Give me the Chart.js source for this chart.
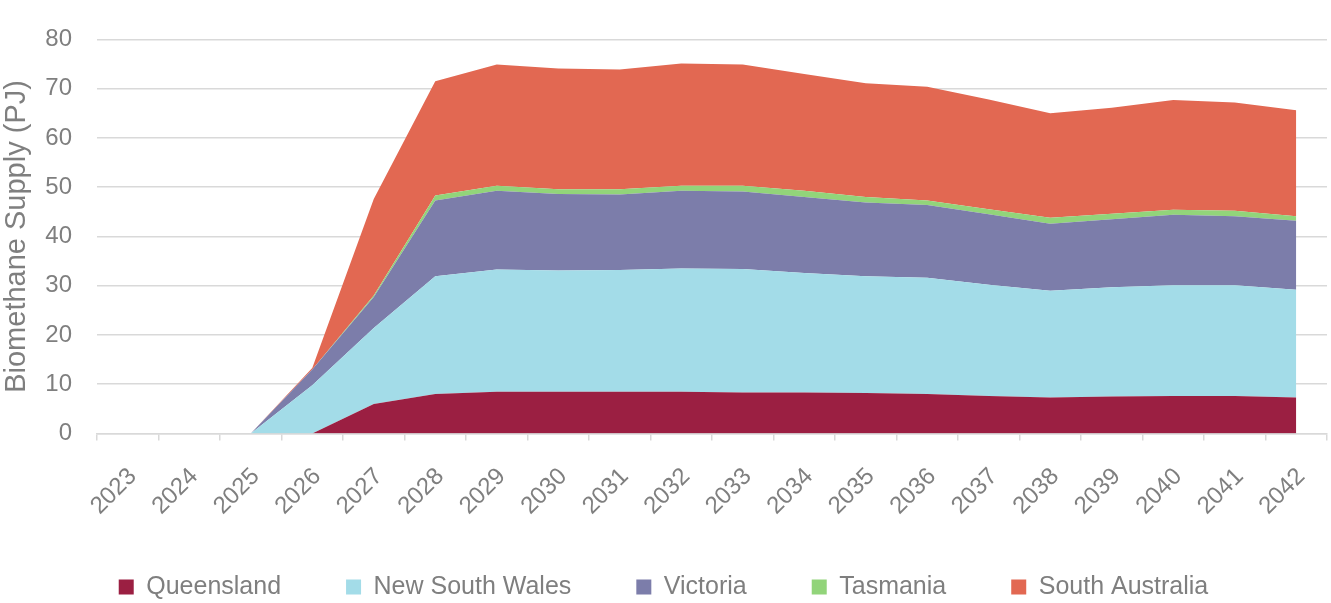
<!DOCTYPE html>
<html>
<head>
<meta charset="utf-8">
<script src="https://cdn.jsdelivr.net/npm/chart.js@4/dist/chart.umd.min.js"></script>
<style>
  html, body { margin: 0; padding: 0; background: #fff; }
  #wrap { width: 1331px; height: 603px; }
</style>
</head>
<body>
<div id="wrap"><canvas id="myChart" width="1331" height="603"></canvas></div>
<script>
// years on the x axis
const years = ['2023', '2024', '2025', '2026', '2027', '2028', '2029', '2030', '2031', '2032',
               '2033', '2034', '2035', '2036', '2037', '2038', '2039', '2040', '2041', '2042'];

// biomethane supply per state (PJ), stacked
const queensland     = [0, 0, 0, 0,   6.0,  8.0,  8.5,  8.5,  8.5,  8.5,  8.3,  8.3,  8.2,  8.0,  7.6,  7.3,  7.5,  7.6,  7.6,  7.3];
const newSouthWales  = [0, 0, 0, 9.8, 15.4, 23.9, 24.8, 24.6, 24.7, 25.0, 25.1, 24.3, 23.7, 23.6, 22.6, 21.7, 22.2, 22.5, 22.5, 21.9];
const victoria       = [0, 0, 0, 3.2, 6.3,  15.4, 16.0, 15.5, 15.3, 15.8, 15.7, 15.4, 15.0, 14.8, 14.3, 13.6, 13.8, 14.3, 14.0, 14.0];
const tasmania       = [0, 0, 0, 0,   0.3,  1.0,  1.0,  1.0,  1.1,  1.0,  1.2,  1.3,  1.1,  0.9,  1.0,  1.2,  1.1,  1.0,  1.1,  0.9];
const southAustralia = [0, 0, 0, 0.3, 19.6, 23.2, 24.6, 24.5, 24.3, 24.8, 24.6, 23.7, 23.1, 23.1, 22.3, 21.2, 21.5, 22.3, 22.0, 21.5];

const yTicks = [0, 10, 20, 30, 40, 50, 60, 70, 80];

const FONT = 'Liberation Sans, Arial, sans-serif';
const GREY = '#7f7f7f';
const GRID = '#d9d9d9';

function area(label, data, color, fill) {
    return {
        label: label,
        data: data,
        backgroundColor: color,
        borderColor: color,
        borderWidth: 0,
        pointRadius: 0,
        pointHoverRadius: 0,
        tension: 0,
        fill: fill
    };
}

const whiteBg = {
    id: 'whiteBg',
    beforeDraw(chart) {
        const c = chart.ctx;
        c.save();
        c.fillStyle = '#fff';
        c.fillRect(0, 0, chart.width, chart.height);
        c.restore();
    }
};

var ctx = document.getElementById('myChart').getContext('2d');
var chart = new Chart(ctx, {
    type: 'line',
    data: {
        labels: years,
        datasets: [
            area('Queensland', queensland, '#9b1f42', 'origin'),
            area('New South Wales', newSouthWales, '#a3dce8', '-1'),
            area('Victoria', victoria, '#7c7daa', '-1'),
            area('Tasmania', tasmania, '#92d47a', '-1'),
            area('South Australia', southAustralia, '#e26852', '-1')
        ]
    },
    options: {
        responsive: false,
        animation: false,
        layout: { padding: { top: 19, right: 4, bottom: -6.5, left: 0 } },
        plugins: {
            tooltip: { enabled: false },
            legend: {
                position: 'bottom',
                labels: {
                    boxWidth: 15,
                    boxHeight: 15,
                    padding: 65,
                    color: GREY,
                    font: { size: 25, family: FONT }
                }
            }
        },
        scales: {
            x: {
                offset: true,
                grid: { offset: true, drawOnChartArea: false, color: GRID, lineWidth: 1.5, tickLength: 7 },
                border: { color: GRID, width: 1.5 },
                ticks: {
                    color: GREY,
                    font: { size: 24, family: FONT },
                    minRotation: 45,
                    maxRotation: 45,
                    autoSkip: false,
                    padding: 22,
                    labelOffset: 5
                },
                afterFit: function (s) {
                    // fixed axis box, labels allowed to run below it
                    s.height = 76;
                    s.paddingLeft = 0;
                    s.paddingRight = 0;
                    s._computeLabelArea = function () { return undefined; };
                }
            },
            y: {
                stacked: true,
                min: 0,
                max: 80,
                afterBuildTicks: function (s) { s.ticks = yTicks.map(v => ({ value: v })); },
                grid: { color: GRID, lineWidth: 1.5, drawTicks: false },
                border: { display: false },
                ticks: { color: GREY, font: { size: 24, family: FONT }, padding: 25 },
                title: {
                    display: true,
                    text: 'Biomethane Supply (PJ)',
                    color: GREY,
                    font: { size: 29, family: FONT },
                    padding: { top: 0, bottom: 0 }
                },
                afterFit: function (s) { s.width = 97; }
            }
        }
    },
    plugins: [whiteBg]
});
</script>
</body>
</html>
